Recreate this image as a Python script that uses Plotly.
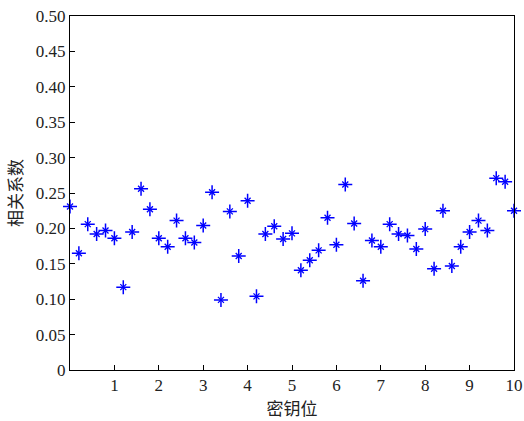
import plotly.graph_objects as go

key_bits = [round(0.2 * i, 1) for i in range(51)]
corr = [0.231, 0.165, 0.206, 0.192, 0.197, 0.186, 0.117, 0.195, 0.256, 0.227,
        0.186, 0.174, 0.211, 0.186, 0.180, 0.204, 0.251, 0.099, 0.224, 0.161,
        0.239, 0.104, 0.192, 0.203, 0.185, 0.193, 0.141, 0.155, 0.169, 0.215,
        0.177, 0.262, 0.207, 0.126, 0.183, 0.174, 0.206, 0.192, 0.190, 0.171,
        0.199, 0.143, 0.225, 0.147, 0.174, 0.195, 0.211, 0.197, 0.271, 0.266,
        0.225]

x_ticks = [1, 2, 3, 4, 5, 6, 7, 8, 9, 10]
y_ticks = [0, 0.05, 0.10, 0.15, 0.20, 0.25, 0.30, 0.35, 0.40, 0.45, 0.50]
y_tick_labels = ["0", "0.05", "0.10", "0.15", "0.20", "0.25", "0.30", "0.35", "0.40", "0.45", "0.50"]

SERIF = "'Liberation Serif', 'DejaVu Serif', serif"
CJK = "Noto Sans CJK SC"

fig = go.Figure()
# MATLAB-style '*' marker: long plus arms with shorter diagonals
fig.add_trace(go.Scatter(
    x=key_bits, y=corr, mode="markers",
    marker=dict(symbol="cross-thin-open", size=10, color="#0000ff",
                line=dict(color="#0000ff", width=1.5)),
    cliponaxis=False, showlegend=False, hoverinfo="skip",
))
fig.add_trace(go.Scatter(
    x=key_bits, y=corr, mode="markers",
    marker=dict(symbol="x-thin-open", size=6, color="#0000ff",
                line=dict(color="#0000ff", width=1.3)),
    cliponaxis=False, showlegend=False,
))

axis_common = dict(showline=True, linecolor="black", linewidth=1, mirror=True,
                   ticks="inside", ticklen=5, tickcolor="black", showgrid=False,
                   zeroline=False,
                   tickfont=dict(family=SERIF, size=17, color="#222"))

fig.update_xaxes(range=[0, 10], tickvals=x_ticks, ticktext=[str(t) for t in x_ticks],
                 title=dict(text="密钥位", font=dict(family=CJK, size=17, color="#222"),
                            standoff=4),
                 **axis_common)
fig.update_yaxes(range=[0, 0.5], tickvals=y_ticks, ticktext=y_tick_labels,
                 title=dict(text="相关系数", font=dict(family=CJK, size=17, color="#222"),
                            standoff=8),
                 **axis_common)

fig.update_layout(width=524, height=421, margin=dict(l=70, r=10, t=16, b=51, autoexpand=False),
                  plot_bgcolor="white", paper_bgcolor="white")

fig.write_html("out.html", config={"displayModeBar": False},
               post_script="document.body.style.margin='0';document.body.style.overflow='hidden';")
